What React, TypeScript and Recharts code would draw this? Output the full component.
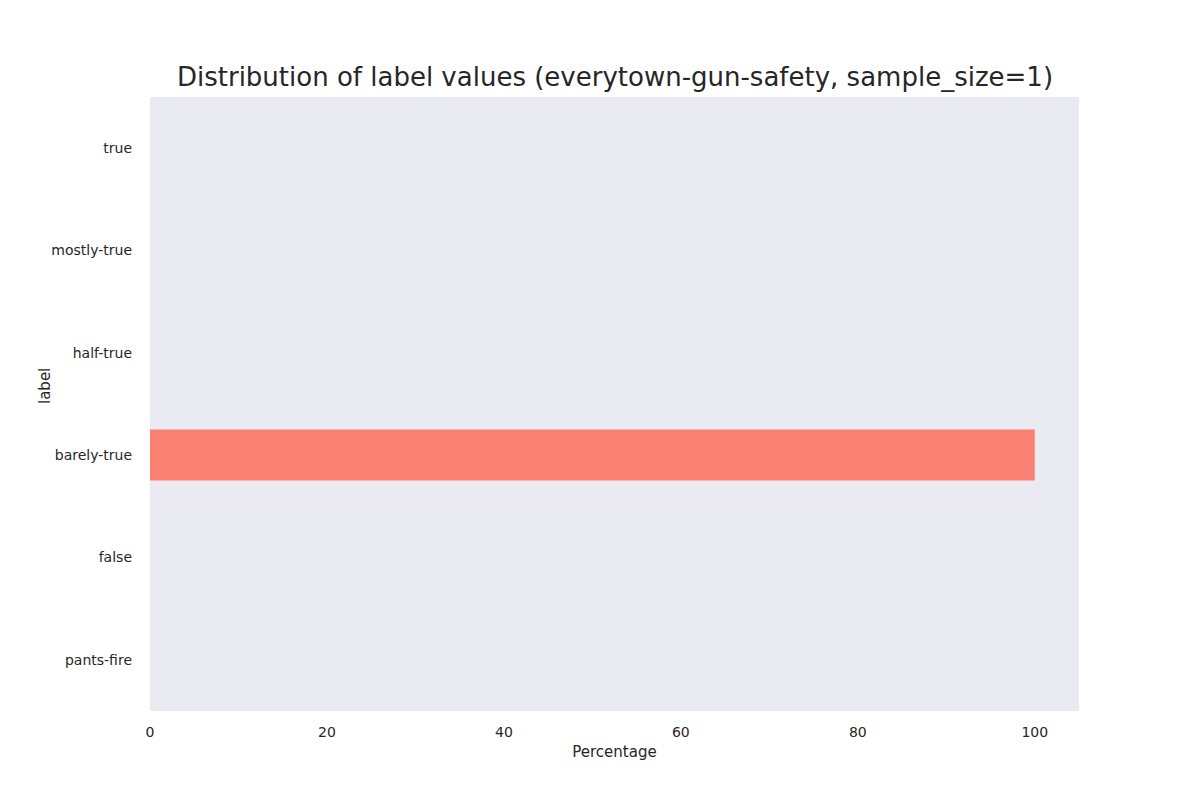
import React from 'react';
import { BarChart, Bar, XAxis, YAxis, CartesianGrid } from 'recharts';

const labels = ['true', 'mostly-true', 'half-true', 'barely-true', 'false', 'pants-fire'];
const percentages = [0, 0, 0, 100, 0, 0];
const xTicks = [0, 20, 40, 60, 80, 100];

const data = labels.map((label, i) => ({ label, value: percentages[i] }));

const font = 'DejaVu Sans, sans-serif';

export default function App() {
  return (
    <div style={{ position: 'absolute', left: 0, top: 0, width: 1200, height: 800, background: '#fff', fontFamily: font }}>
      <div style={{ position: 'absolute', top: 62, width: 1230, textAlign: 'center', fontSize: 26, color: '#262626' }}>
        Distribution of label values (everytown-gun-safety, sample_size=1)
      </div>
      <BarChart
        width={1200}
        height={800}
        data={data}
        layout="vertical"
        barCategoryGap="25%"
        margin={{ top: 97, right: 121, bottom: 0, left: 0 }}
      >
        <rect x={150} y={97} width={929} height={614} fill="#EAEAF2" />
        <CartesianGrid stroke="#ffffff" strokeWidth={1.3} fill="#EAEAF2" />
        <XAxis
          type="number"
          domain={[0, 105]}
          ticks={xTicks}
          height={89}
          axisLine={false}
          tickLine={false}
          tick={{ fill: '#262626', fontSize: 14, fontFamily: font, dy: 8 }}
          label={{ value: 'Percentage', position: 'insideTop', dy: 30, fill: '#262626', fontSize: 15, fontFamily: font }}
        />
        <YAxis
          type="category"
          dataKey="label"
          width={150}
          axisLine={false}
          tickLine={false}
          tickMargin={12}
          tick={{ fill: '#262626', fontSize: 14, fontFamily: font }}
          label={{ value: 'label', angle: -90, position: 'insideLeft', dx: 40, fill: '#262626', fontSize: 15, fontFamily: font }}
        />
        <Bar dataKey="value" fill="#FA8072" isAnimationActive={false} />
      </BarChart>
    </div>
  );
}
